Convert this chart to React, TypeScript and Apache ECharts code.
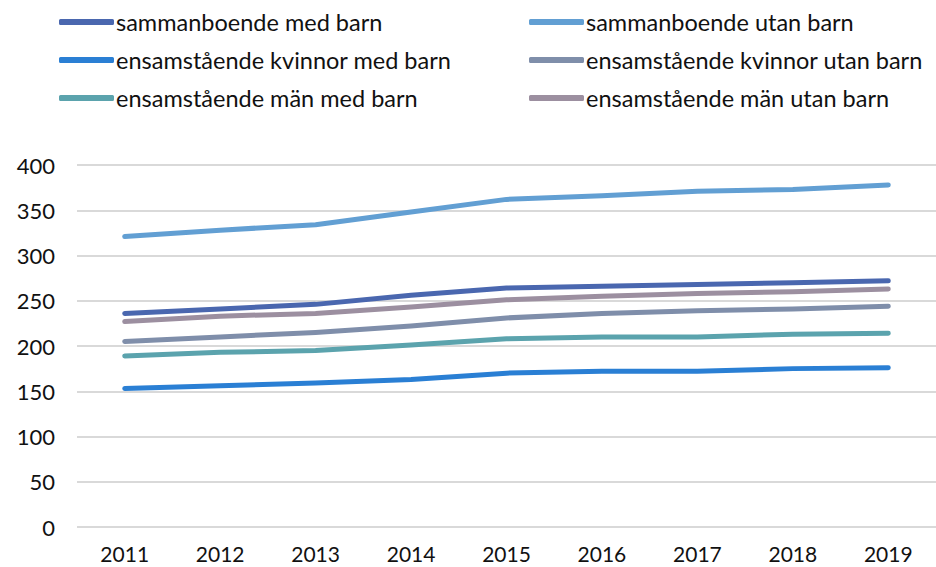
import React, { useEffect, useRef } from "react";
import * as echarts from "echarts";

const years = ["2011", "2012", "2013", "2014", "2015", "2016", "2017", "2018", "2019"];
const sammanMed = [236, 241, 246, 256, 264, 266, 268, 270, 272];
const sammanUtan = [321, 328, 334, 348, 362, 366, 371, 373, 378];
const kvinnorMed = [153, 156, 159, 163, 170, 172, 172, 175, 176];
const kvinnorUtan = [205, 210, 215, 222, 231, 236, 239, 241, 244];
const manMed = [189, 193, 195, 201, 208, 210, 210, 213, 214];
const manUtan = [227, 233, 236, 243, 251, 255, 258, 260, 263];

const names = [
  "sammanboende med barn",
  "sammanboende utan barn",
  "ensamstående kvinnor med barn",
  "ensamstående kvinnor utan barn",
  "ensamstående män med barn",
  "ensamstående män utan barn",
];
const colors = ["#4A67AF", "#629FD3", "#2A7FD4", "#7F8EAA", "#5BA3AD", "#9C8FA0"];
const values = [sammanMed, sammanUtan, kvinnorMed, kvinnorUtan, manMed, manUtan];

const FONT = "Lato";

export default function App() {
  const ref = useRef<HTMLDivElement>(null);
  useEffect(() => {
    if (!ref.current) return;
    const chart = echarts.init(ref.current, null, { renderer: "svg" });
    const legendBase = {
      orient: "vertical" as const,
      top: 3,
      icon: "roundRect",
      itemWidth: 55,
      itemHeight: 6,
      itemGap: 10,
      textStyle: { fontFamily: FONT, fontSize: 23.5, color: "#111", lineHeight: 28, padding: [0, 0, 0, -3] },
    };
    chart.setOption({
      animation: false,
      color: colors,
      legend: [
        { ...legendBase, left: 54, data: [names[0], names[2], names[4]] },
        { ...legendBase, left: 524, data: [names[1], names[3], names[5]] },
      ],
      grid: { left: 77, right: -10, top: 165, bottom: 40, containLabel: false },
      xAxis: {
        type: "category",
        data: years,
        boundaryGap: true,
        axisLine: { show: false },
        axisTick: { show: false },
        axisLabel: { fontFamily: FONT, fontSize: 21, color: "#111", margin: 16 },
      },
      yAxis: {
        type: "value",
        min: 0,
        max: 400,
        interval: 50,
        axisLine: { show: false },
        axisTick: { show: false },
        splitLine: { lineStyle: { color: "#D9D9D9", width: 2 } },
        axisLabel: { fontFamily: FONT, fontSize: 22, color: "#111", margin: 22 },
      },
      series: values.map((v, i) => ({
        name: names[i],
        type: "line",
        data: v,
        showSymbol: false,
        symbol: "none",
        lineStyle: { width: 5, color: colors[i], cap: "round", join: "round" },
        itemStyle: { color: colors[i] },
      })),
    });
    return () => chart.dispose();
  }, []);
  return <div ref={ref} style={{ width: 936, height: 567, position: "absolute", left: 0, top: 0 }} />;
}
